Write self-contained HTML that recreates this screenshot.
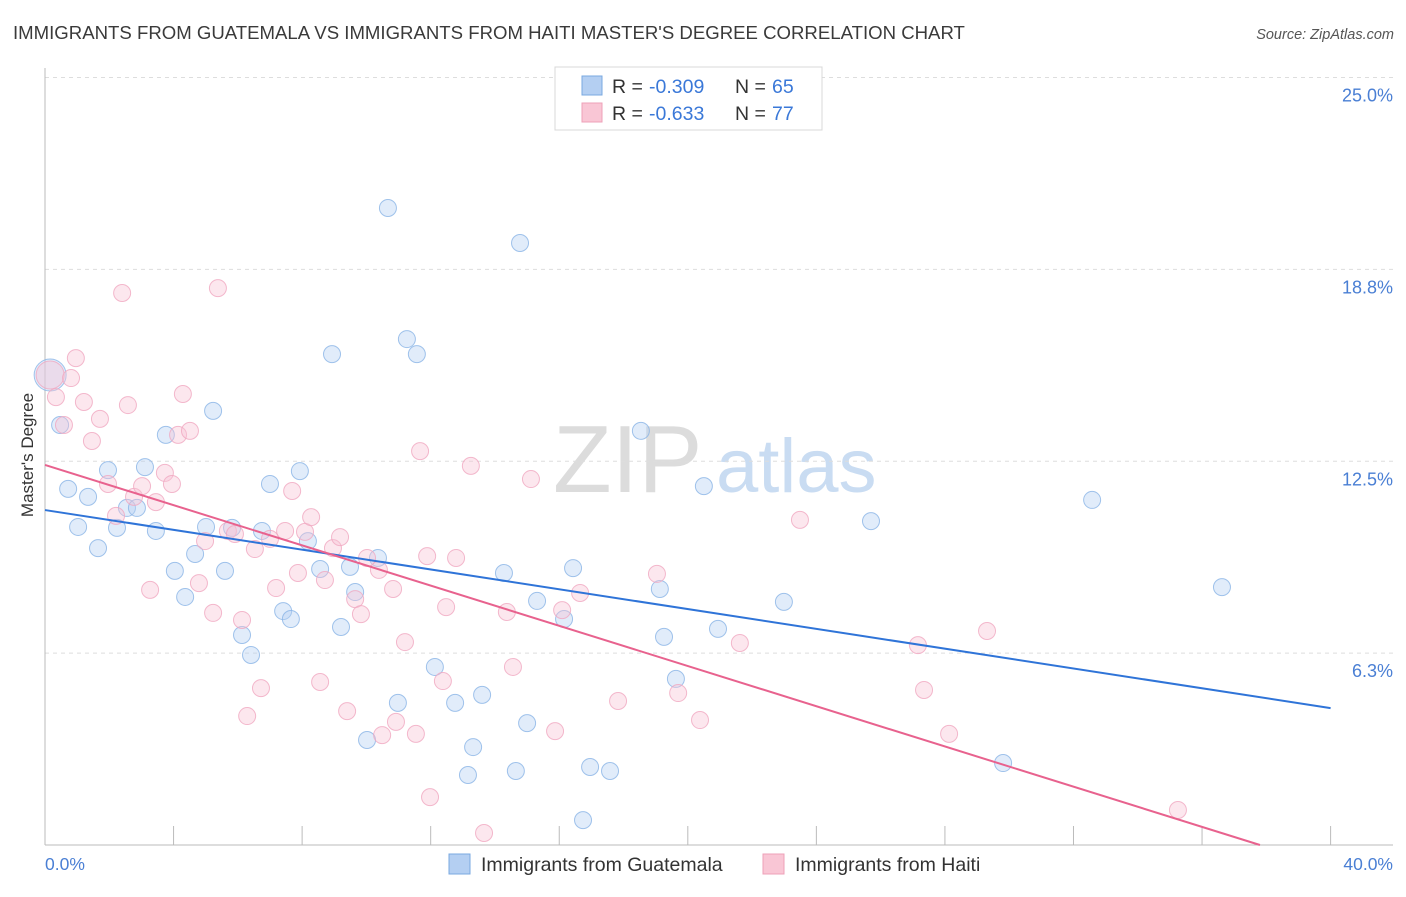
<!DOCTYPE html>
<html><head><meta charset="utf-8"><style>
body{margin:0;background:#fff;font-family:"Liberation Sans",sans-serif}
svg text{font-family:"Liberation Sans",sans-serif}
</style></head><body>
<svg id="chart" width="1406" height="892" viewBox="0 0 1406 892" xmlns="http://www.w3.org/2000/svg">
<text x="13" y="39" font-size="18.6" fill="#3a3a3a">IMMIGRANTS FROM GUATEMALA VS IMMIGRANTS FROM HAITI MASTER'S DEGREE CORRELATION CHART</text>
<text x="1394" y="39" font-size="14.5" fill="#555" font-style="italic" text-anchor="end">Source: ZipAtlas.com</text>
<g>
<text x="553" y="492" font-size="96" fill="#dcdcdc" font-family="Liberation Serif, serif">ZIP</text>
<text x="716" y="492" font-size="76" fill="#c9dcf2">atlas</text>
</g>
<g id="grid"></g>
<g id="axes"></g>
<g id="pts"></g>
<g id="lines"></g>
<text transform="translate(33,455) rotate(-90)" font-size="17" fill="#333" text-anchor="middle">Master's Degree</text>
<text x="45" y="870" font-size="17.5" fill="#4a7fd4">0.0%</text>
<text x="1393" y="870" font-size="17.5" fill="#4a7fd4" text-anchor="end">40.0%</text>
<g>
<rect x="555" y="67" width="267" height="63" fill="#fff" stroke="#d8d8d8"/>
<rect x="582" y="76" width="20" height="19" fill="#b4cff2" stroke="#7aa8e0"/>
<rect x="582" y="103" width="20" height="19" fill="#f9c6d5" stroke="#eea0b8"/>
<text x="612" y="93" font-size="19.5" fill="#333">R =</text>
<text x="649" y="93" font-size="19.5" fill="#3a78d8">-0.309</text>
<text x="735" y="93" font-size="19.5" fill="#333">N =</text>
<text x="772" y="93" font-size="19.5" fill="#3a78d8">65</text>
<text x="612" y="120" font-size="19.5" fill="#333">R =</text>
<text x="649" y="120" font-size="19.5" fill="#3a78d8">-0.633</text>
<text x="735" y="120" font-size="19.5" fill="#333">N =</text>
<text x="772" y="120" font-size="19.5" fill="#3a78d8">77</text>
</g>
<g>
<rect x="449" y="854" width="21" height="20" fill="#b4cff2" stroke="#7aa8e0"/>
<text x="481" y="871" font-size="19.5" fill="#333">Immigrants from Guatemala</text>
<rect x="763" y="854" width="21" height="20" fill="#f9c6d5" stroke="#eea0b8"/>
<text x="795" y="871" font-size="19.5" fill="#333">Immigrants from Haiti</text>
</g>
</svg>
<script>
const yTicks=[6.25,12.5,18.75,25];
const yTickLabels=["6.3%","12.5%","18.8%","25.0%"];
const xTicks=[0,4,8,12,16,20,24,28,32,36,40];
const blueX=[0.16,0.47,0.72,1.34,1.03,1.65,1.96,2.24,2.55,2.86,3.11,3.45,3.76,4.04,4.36,4.67,5.01,5.23,5.60,5.82,6.13,6.41,6.75,7.00,7.41,7.65,7.93,8.18,8.56,8.93,9.21,9.49,9.65,10.02,10.36,10.67,10.98,11.26,11.57,12.13,12.76,13.32,13.16,13.60,14.28,14.65,14.78,15.00,15.31,16.15,16.43,16.74,16.96,17.58,18.54,19.13,19.26,19.63,20.50,20.94,22.99,25.70,29.81,32.58,36.62];
const blueY=[15.31,13.68,11.60,11.34,10.36,9.67,12.21,10.33,10.98,10.98,12.31,10.23,13.36,8.93,8.08,9.48,10.36,14.14,8.93,10.33,6.84,6.19,10.23,11.76,7.62,7.36,12.18,9.90,8.99,15.99,7.10,9.06,8.24,3.42,9.35,20.75,4.63,16.48,15.99,5.80,4.63,3.19,2.28,4.89,8.86,2.41,19.61,3.97,7.95,7.36,9.02,0.81,2.54,2.41,13.49,8.34,6.78,5.41,11.69,7.04,7.92,10.55,2.67,11.24,8.40];
const pinkX=[0.16,0.34,0.59,0.81,0.96,1.21,1.46,1.71,1.96,2.21,2.40,2.58,2.77,3.02,3.27,3.45,3.73,3.95,4.14,4.29,4.51,4.79,4.98,5.23,5.38,5.69,5.91,6.13,6.29,6.53,6.72,7.00,7.19,7.47,7.69,7.87,8.09,8.28,8.56,8.71,8.96,9.18,9.40,9.65,9.83,10.02,10.39,10.49,10.83,10.92,11.20,11.54,11.67,11.89,11.98,12.38,12.48,12.79,13.25,13.66,14.37,14.56,15.12,15.87,16.09,16.65,17.83,19.04,19.70,20.38,21.62,23.49,27.16,27.35,28.13,29.31,35.25];
const pinkY=[15.31,14.59,13.68,15.21,15.86,14.43,13.16,13.88,11.76,10.72,17.98,14.33,11.34,11.69,8.31,11.17,12.12,11.76,13.36,14.69,13.49,8.53,9.90,7.56,18.14,10.23,10.13,7.33,4.20,9.64,5.11,9.97,8.37,10.23,11.53,8.86,10.20,10.68,5.31,8.63,9.67,10.03,4.36,8.01,7.52,9.35,8.96,3.58,8.34,4.01,6.61,3.62,12.83,9.41,1.56,5.34,7.75,9.35,12.35,0.39,7.59,5.80,11.92,3.71,7.65,8.21,4.69,8.83,4.95,4.07,6.58,10.59,6.51,5.05,3.62,6.97,1.14];
const blueTrend=[10.91,4.46];
const pinkTrend=[12.38,-0.72];
const trendX=[0,40];
const NS="http://www.w3.org/2000/svg";
function sx(v){return 45+v*32.14;}
function sy(v){return 845-v*30.7;}
function mk(tag,attrs,parent){const e=document.createElementNS(NS,tag);for(const k in attrs)e.setAttribute(k,attrs[k]);parent.appendChild(e);return e;}
const grid=document.getElementById('grid'),axes=document.getElementById('axes'),pts=document.getElementById('pts'),lines=document.getElementById('lines');
yTicks.forEach((t,i)=>{
  const l=mk('line',{x1:45,x2:1393,y1:sy(t),y2:sy(t),stroke:'#ddd','stroke-dasharray':'4,4'},grid);
  
  
  const tx=mk('text',{x:1393,y:sy(t)+24,'font-size':18,fill:'#4a7fd4','text-anchor':'end'},grid);
  tx.textContent=yTickLabels[i];
  
  
});
const ya=mk('line',{x1:45,x2:45,y1:68,y2:845,stroke:'#bbb'},axes);


const xa=mk('line',{x1:45,x2:1393,y1:845,y2:845,stroke:'#bbb'},axes);


xTicks.forEach(t=>{
  const l=mk('line',{x1:sx(t),x2:sx(t),y1:826,y2:845,stroke:'#bbb'},axes);
  
  
});
function dots(X,Y,fill,stroke,name){
  X.forEach((x,i)=>{
    const r=(i===0&&name==='guatemala-point')?16:(i===0?14:8.5);
    const c=mk('circle',{cx:sx(x),cy:sy(Y[i]),r:r,fill:fill,'fill-opacity':0.4,stroke:stroke,'stroke-opacity':0.8,'stroke-width':1},pts);
    
    
  });
}
dots(blueX,blueY,'#b4cff2','#8ab4e6','guatemala-point');
dots(pinkX,pinkY,'#f8c4d4','#f0a8c0','haiti-point');
const bl=mk('line',{x1:sx(trendX[0]),y1:sy(blueTrend[0]),x2:sx(trendX[1]),y2:sy(blueTrend[1]),stroke:'#2f74d8','stroke-width':2},lines);


const slope=(pinkTrend[1]-pinkTrend[0])/(trendX[1]-trendX[0]);
const xEnd=Math.min(trendX[1],-pinkTrend[0]/slope);
const pl=mk('line',{x1:sx(trendX[0]),y1:sy(pinkTrend[0]),x2:sx(xEnd),y2:sy(pinkTrend[0]+slope*xEnd),stroke:'#e8628e','stroke-width':2},lines);


</script>
</body></html>
